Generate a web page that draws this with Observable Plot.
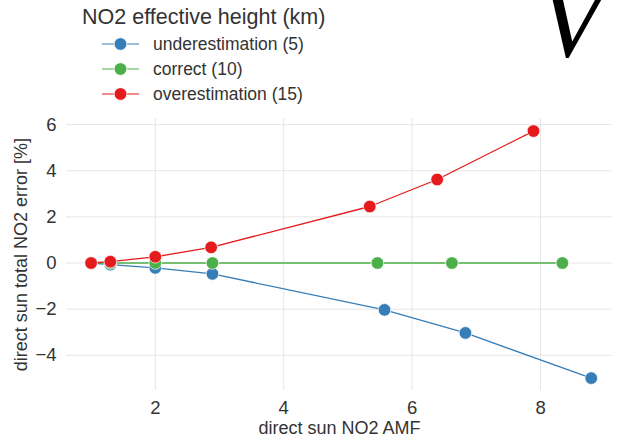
<!DOCTYPE html>
<html>
<head>
<meta charset="utf-8">
<script src="https://cdn.jsdelivr.net/npm/d3@7"></script>
<script src="https://cdn.jsdelivr.net/npm/@observablehq/plot@0.6"></script>
<style>
  html, body { margin: 0; padding: 0; background: #fff; }
  body { font-family: "Liberation Sans", Arial, sans-serif; }
  #wrap { width: 617px; height: 438px; overflow: hidden; }
  #header svg, #chart svg { display: block; }
</style>
</head>
<body>
<div id="wrap">
  <div id="header"></div>
  <div id="chart"></div>
</div>
<script>
// ---- data ----
const legendTitle = "NO2 effective height (km)";
const seriesNames = ["underestimation (5)", "correct (10)", "overestimation (15)"];
const seriesColors = ["#377eb8", "#4daf4a", "#e41a1c"];
const xLabel = "direct sun NO2 AMF";
const yLabel = "direct sun total NO2 error [%]";
const xTicks = [2, 4, 6, 8];
const yTicks = [-4, -2, 0, 2, 4, 6];
const decoGlyph = "V";

const amfUnder   = [1.0, 1.3, 2.0, 2.89, 5.57, 6.83, 8.79];
const errUnder   = [0.0, -0.07, -0.21, -0.47, -2.03, -3.03, -4.99];
const amfCorrect = [1.0, 1.3, 2.0, 2.89, 5.46, 6.62, 8.34];
const errCorrect = [0.0, 0.0, 0.0, 0.0, 0.0, 0.0, 0.0];
const amfOver    = [1.0, 1.3, 2.0, 2.87, 5.34, 6.39, 7.89];
const errOver    = [0.0, 0.06, 0.27, 0.68, 2.45, 3.62, 5.72];

const seriesX = [amfUnder, amfCorrect, amfOver];
const seriesY = [errUnder, errCorrect, errOver];

const rows = [];
seriesNames.forEach((name, k) => {
  seriesX[k].forEach((x, i) => rows.push({series: name, amf: x, err: seriesY[k][i]}));
});

const textColor = "#333333";
const gridColor = "#e6e6e6";

// ---- header (legend) ----
const headerH = 110;
const hs = d3.select("#header").append("svg")
  .attr("width", 617).attr("height", headerH)
  .style("font-family", "'Liberation Sans', Arial, sans-serif");

hs.append("text")
  .attr("x", 82).attr("y", 24)
  .attr("font-size", 21.5).attr("fill", textColor)
  .text(legendTitle);

seriesNames.forEach((name, k) => {
  const cy = 44 + 25 * k;
  hs.append("line").attr("x1", 102).attr("x2", 139).attr("y1", cy).attr("y2", cy)
    .attr("stroke", seriesColors[k]).attr("stroke-width", 1.2);
  hs.append("circle").attr("cx", 120.5).attr("cy", cy).attr("r", 6.3)
    .attr("fill", seriesColors[k]).attr("stroke", "#fff").attr("stroke-width", 0.7);
  hs.append("text").attr("x", 153).attr("y", cy + 6)
    .attr("font-size", 17.5).attr("fill", textColor).text(name);
});

hs.append("text")
  .attr("x", 538).attr("y", 56)
  .attr("font-size", 108).attr("font-style", "italic")
  .attr("font-family", "'Liberation Serif', 'DejaVu Serif', serif")
  .attr("fill", "#000")
  .text(decoGlyph);

// ---- chart ----
const svgH = 438 - headerH;
const plotTop = 118.1 - headerH;
const plotBottom = 390.1 - headerH;

const marks = [
  Plot.gridX(xTicks, {stroke: gridColor, strokeOpacity: 1, strokeWidth: 1}),
  Plot.gridY(yTicks, {stroke: gridColor, strokeOpacity: 1, strokeWidth: 1}),
  Plot.axisX(xTicks, {tickSize: 0, tickPadding: 10, fontSize: 18.5, label: null, color: textColor}),
  Plot.axisY(yTicks, {tickSize: 0, tickPadding: 10, fontSize: 18.5, label: null, color: textColor}),
  Plot.text([xLabel], {frameAnchor: "bottom", textAnchor: "middle", lineAnchor: "middle", dy: 38, fontSize: 18, fill: textColor}),
  Plot.text([yLabel], {frameAnchor: "left", textAnchor: "middle", lineAnchor: "middle", rotate: -90, dx: -45, fontSize: 18, fill: textColor})
];
seriesNames.forEach((name, k) => {
  const d = rows.filter(r => r.series === name);
  marks.push(Plot.line(d, {x: "amf", y: "err", stroke: seriesColors[k], strokeWidth: 1.3}));
  marks.push(Plot.dot(d, {x: "amf", y: "err", r: 6.3, fill: seriesColors[k], stroke: "#fff", strokeWidth: 0.7}));
});

const chart = Plot.plot({
  width: 617,
  height: svgH,
  marginLeft: 66,
  marginRight: 5,
  marginTop: plotTop,
  marginBottom: svgH - plotBottom,
  style: {fontFamily: "'Liberation Sans', Arial, sans-serif", background: "#fff", color: textColor, overflow: "visible"},
  x: {domain: [0.617, 9.121]},
  y: {domain: [-5.53, 6.26]},
  marks
});
document.getElementById("chart").appendChild(chart);
</script>
</body>
</html>
